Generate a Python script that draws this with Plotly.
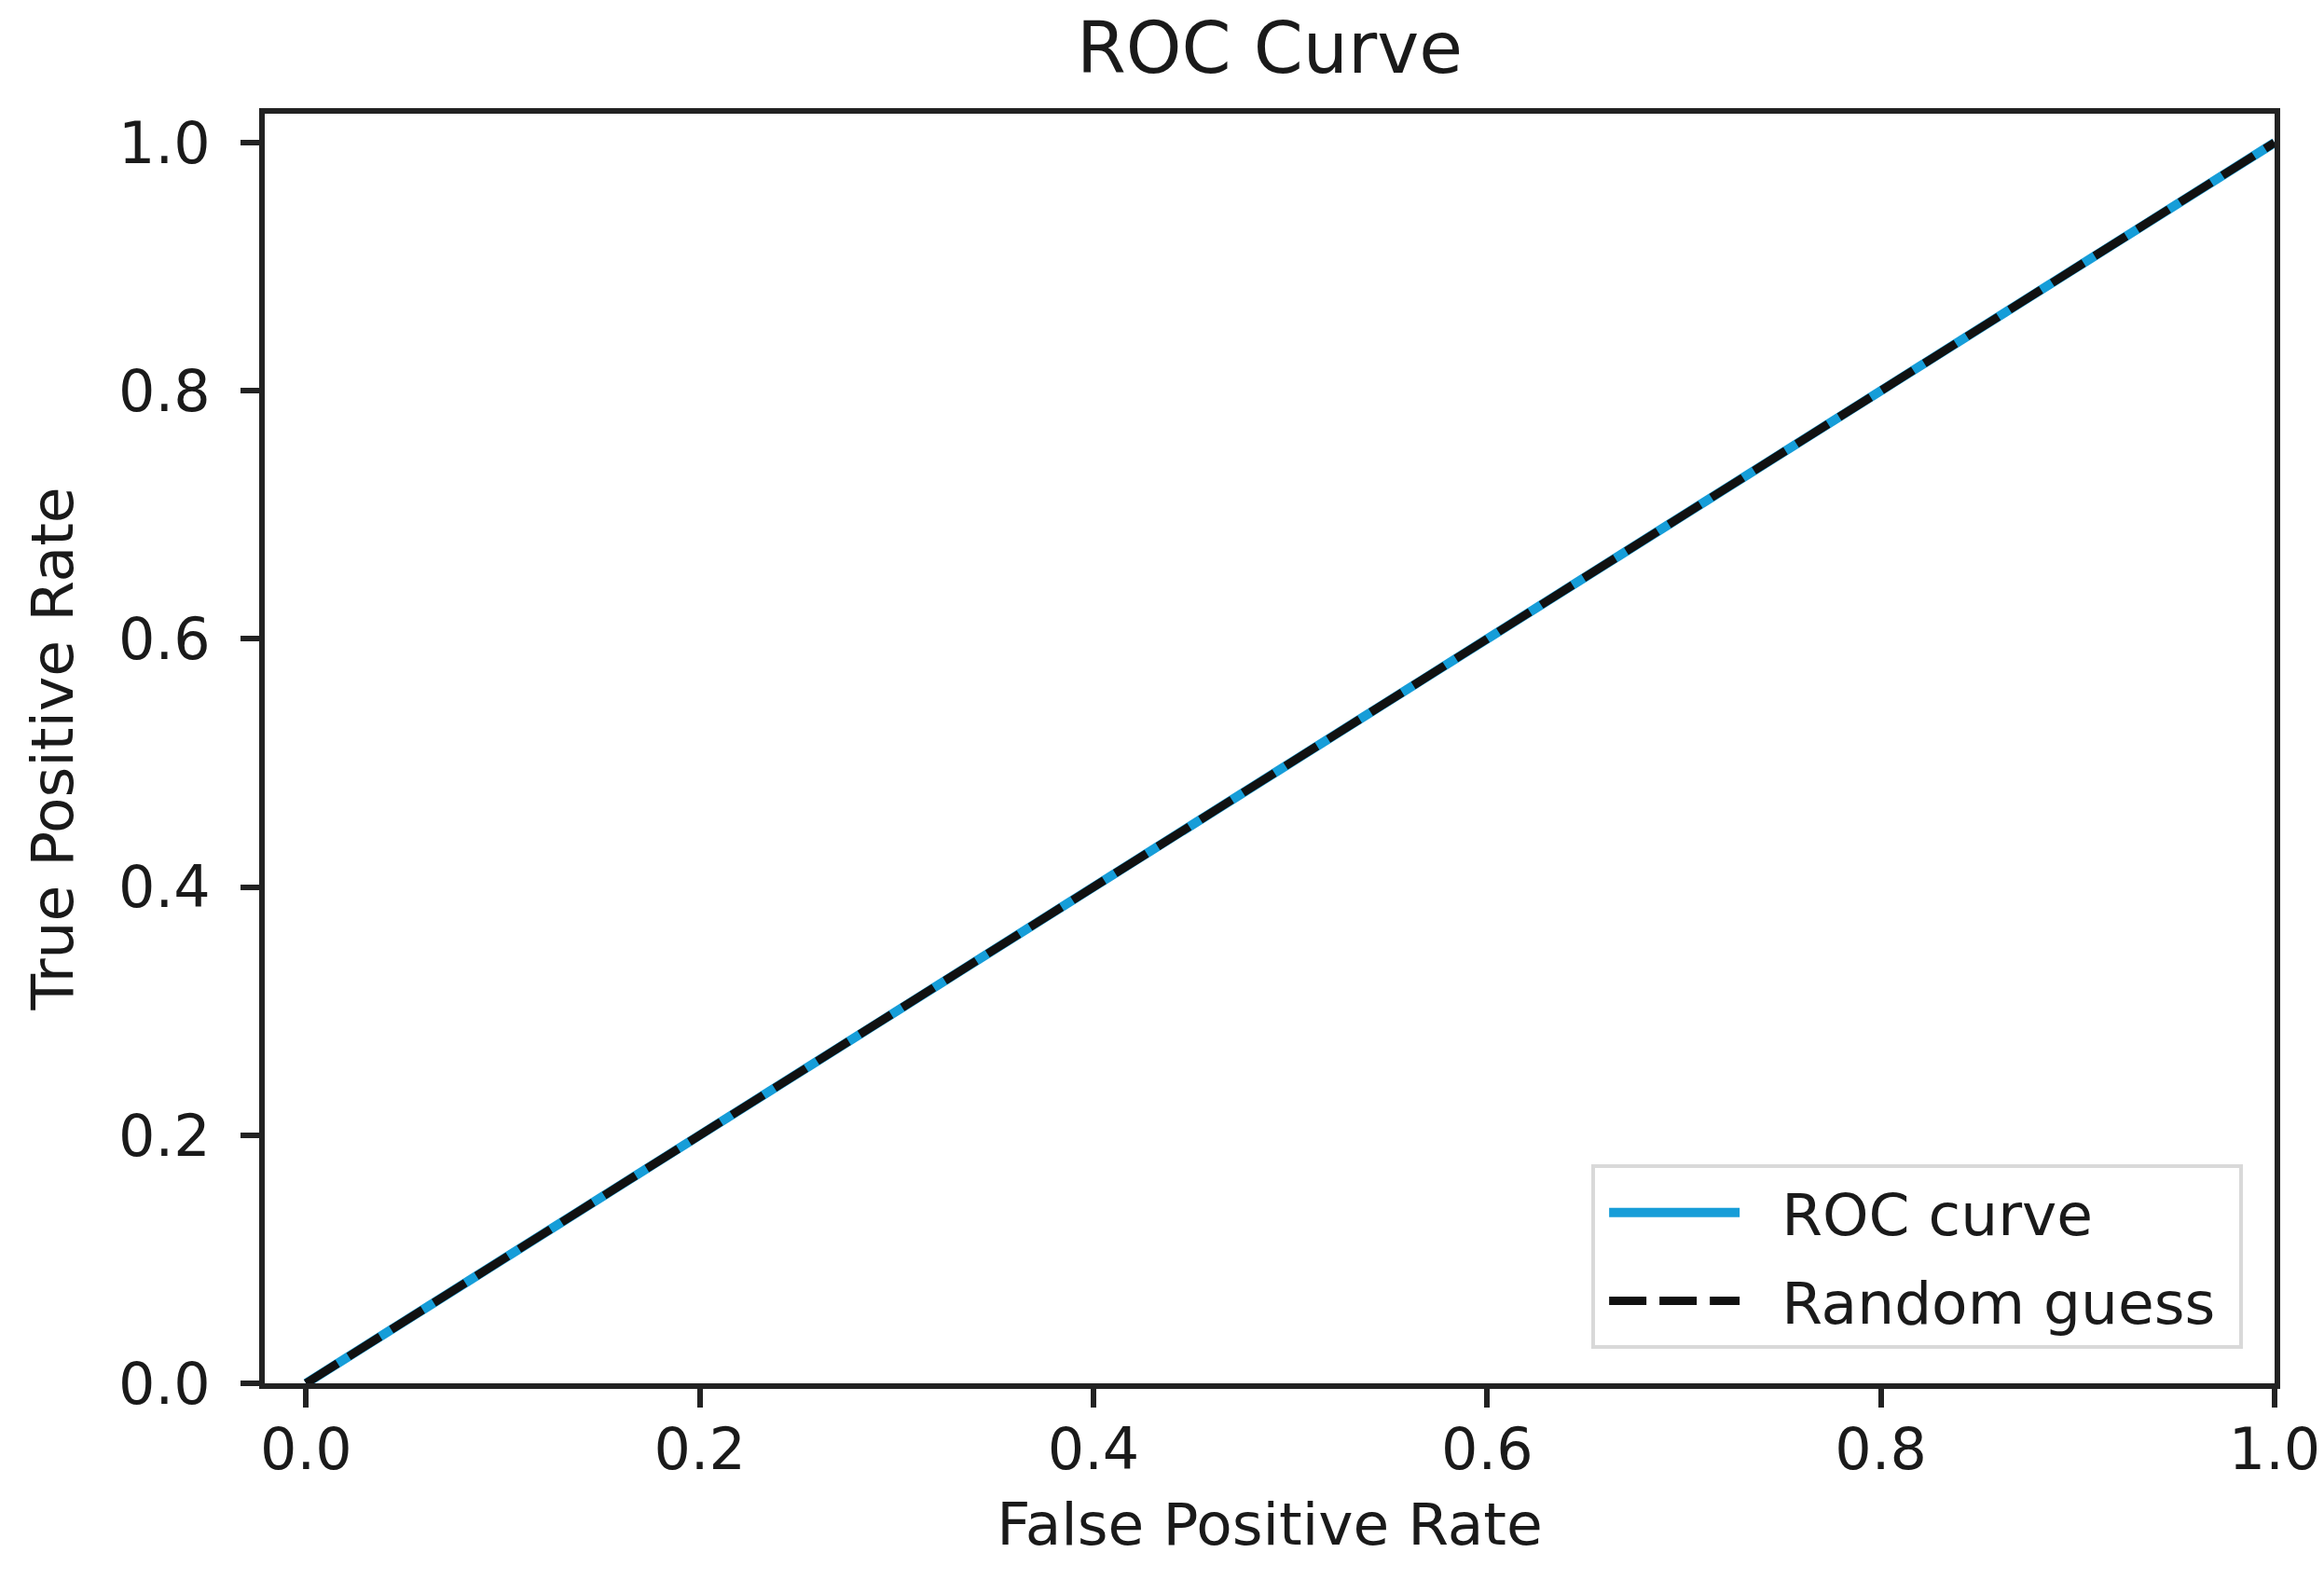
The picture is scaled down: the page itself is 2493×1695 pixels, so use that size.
import plotly.graph_objects as go

# Data
fpr = [0.0, 0.25, 0.5, 0.75, 1.0]
tpr = [0.0, 0.25, 0.5, 0.75, 1.0]
rand_x = [0.0, 1.0]
rand_y = [0.0, 1.0]
tick_vals = [0.0, 0.2, 0.4, 0.6, 0.8, 1.0]
tick_text = ["0.0", "0.2", "0.4", "0.6", "0.8", "1.0"]
series_names = ["ROC curve", "Random guess"]

FONT = "DejaVu Sans"
TXT = "#1a1a1a"
LEAD = "\u00a0\u00a0"
TRAIL = "\u00a0"

fig = go.Figure()
fig.add_trace(go.Scatter(x=fpr, y=tpr, mode="lines", name=LEAD + series_names[0] + TRAIL,
                         legendgroup="a",
                         line=dict(color="#169dd8", width=10)))
fig.add_trace(go.Scatter(x=rand_x, y=rand_y, mode="lines", name=LEAD + series_names[1] + TRAIL,
                         legendgroup="b",
                         line=dict(color="#111111", width=9, dash="40px,14px")))

axis_common = dict(
    showgrid=False, zeroline=False, showline=True, mirror=True,
    linecolor="#222222", linewidth=6,
    ticks="outside", ticklen=20, tickwidth=6, tickcolor="#222222",
    tickvals=tick_vals, ticktext=tick_text,
    tickfont=dict(family=FONT, size=62, color=TXT),
)

fig.update_layout(
    width=2493, height=1695,
    paper_bgcolor="white", plot_bgcolor="white",
    margin=dict(l=276, r=52, t=114, b=219),
    title=dict(text="ROC Curve", x=0.5, xanchor="center", xref="paper",
               y=1 - 43 / 1695, yanchor="middle",
               font=dict(family=FONT, size=76, color=TXT)),
    xaxis=dict(range=[-0.021, 1.0], ticklabelstandoff=-8,
               title=dict(text="False Positive Rate", standoff=24,
                          font=dict(family=FONT, size=63, color=TXT)), **axis_common),
    yaxis=dict(range=[0.0, 1.0233], ticklabelstandoff=20,
               title=dict(text="True Positive Rate", standoff=30,
                          font=dict(family=FONT, size=63, color=TXT)), **axis_common),
    showlegend=True,
    legend=dict(x=0.9843, y=0.027, xanchor="right", yanchor="bottom",
                bordercolor="#d9d9d9", borderwidth=4, bgcolor="white",
                font=dict(family=FONT, size=63, color=TXT),
                itemwidth=140, indentation=10,
                traceorder="grouped", tracegroupgap=10),
)

fig.write_html("out.html")
